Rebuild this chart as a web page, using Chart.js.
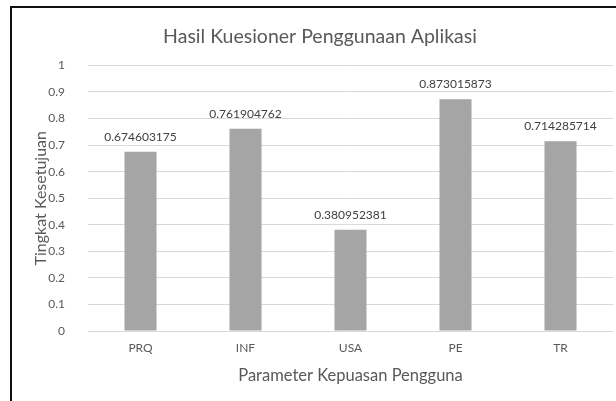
<!DOCTYPE html>
<html>
<head>
<meta charset="utf-8">
<script src="https://cdn.jsdelivr.net/npm/chart.js@4.4.1/dist/chart.umd.min.js"></script>
<style>
  html, body { margin: 0; padding: 0; background: #fff; }
  #wrap { position: relative; width: 616px; height: 401px; overflow: hidden; }
  #frame { position: absolute; left: 10px; top: 6px; right: -4px; bottom: -4px;
           border-top: 2px solid #111; border-left: 2px solid #111; }
  canvas { position: absolute; left: 0; top: 0; }
</style>
</head>
<body>
<div id="wrap">
  <div id="frame"></div>
  <canvas id="chart" width="616" height="401"></canvas>
</div>
<script>
// data
const categories = ['PRQ', 'INF', 'USA', 'PE', 'TR'];
const values = [0.674603175, 0.761904762, 0.380952381, 0.873015873, 0.714285714];
const valueLabels = ['0.674603175', '0.761904762', '0.380952381', '0.873015873', '0.714285714'];

const FONT = 'Lato, "Open Sans", sans-serif';

// tulis nilai di atas tiap batang
const barLabels = {
    id: 'barLabels',
    afterDatasetsDraw(chart) {
        const ctx = chart.ctx;
        const meta = chart.getDatasetMeta(0);
        ctx.save();
        ctx.font = '12px ' + FONT;
        ctx.fillStyle = '#404040';
        ctx.textAlign = 'center';
        ctx.textBaseline = 'middle';
        meta.data.forEach((bar, i) => {
            ctx.fillText(valueLabels[i], bar.x, bar.y - 15);
        });
        ctx.restore();
    }
};

new Chart(document.getElementById('chart'), {
    type: 'bar',
    data: {
        labels: categories,
        datasets: [{
            data: values,
            backgroundColor: '#a5a5a5',
            barPercentage: 0.305,
            categoryPercentage: 1
        }]
    },
    options: {
        responsive: false,
        animation: false,
        layout: { padding: { left: 27, right: 3, top: 0, bottom: 0 } },
        plugins: {
            legend: { display: false },
            tooltip: { enabled: false },
            title: {
                display: true,
                text: 'Hasil Kuesioner Penggunaan Aplikasi',
                color: '#595959',
                font: { family: FONT, size: 19.5, weight: 'normal' },
                padding: { top: 25, bottom: 17 }
            }
        },
        scales: {
            x: {
                grid: { display: false, drawTicks: false },
                border: { display: false },
                ticks: { color: '#595959', font: { family: FONT, size: 12 }, padding: 10 },
                title: {
                    display: true,
                    text: 'Parameter Kepuasan Pengguna',
                    color: '#595959',
                    font: { family: FONT, size: 16.5 },
                    padding: { top: 0, bottom: 15 }
                },
                afterFit(scale) { scale.height = 70; }
            },
            y: {
                min: 0,
                max: 1,
                grid: { color: '#d9d9d9', drawTicks: false },
                border: { display: false },
                ticks: {
                    stepSize: 0.1,
                    color: '#595959',
                    font: { family: FONT, size: 12 },
                    padding: 23,
                    callback: v => String(Math.round(v * 10) / 10)
                },
                title: {
                    display: true,
                    text: 'Tingkat Kesetujuan',
                    color: '#595959',
                    font: { family: FONT, size: 16 },
                    padding: { top: 4, bottom: 0 }
                },
                afterFit(scale) { scale.width = 61; }
            }
        }
    },
    plugins: [barLabels]
});
</script>
</body>
</html>
